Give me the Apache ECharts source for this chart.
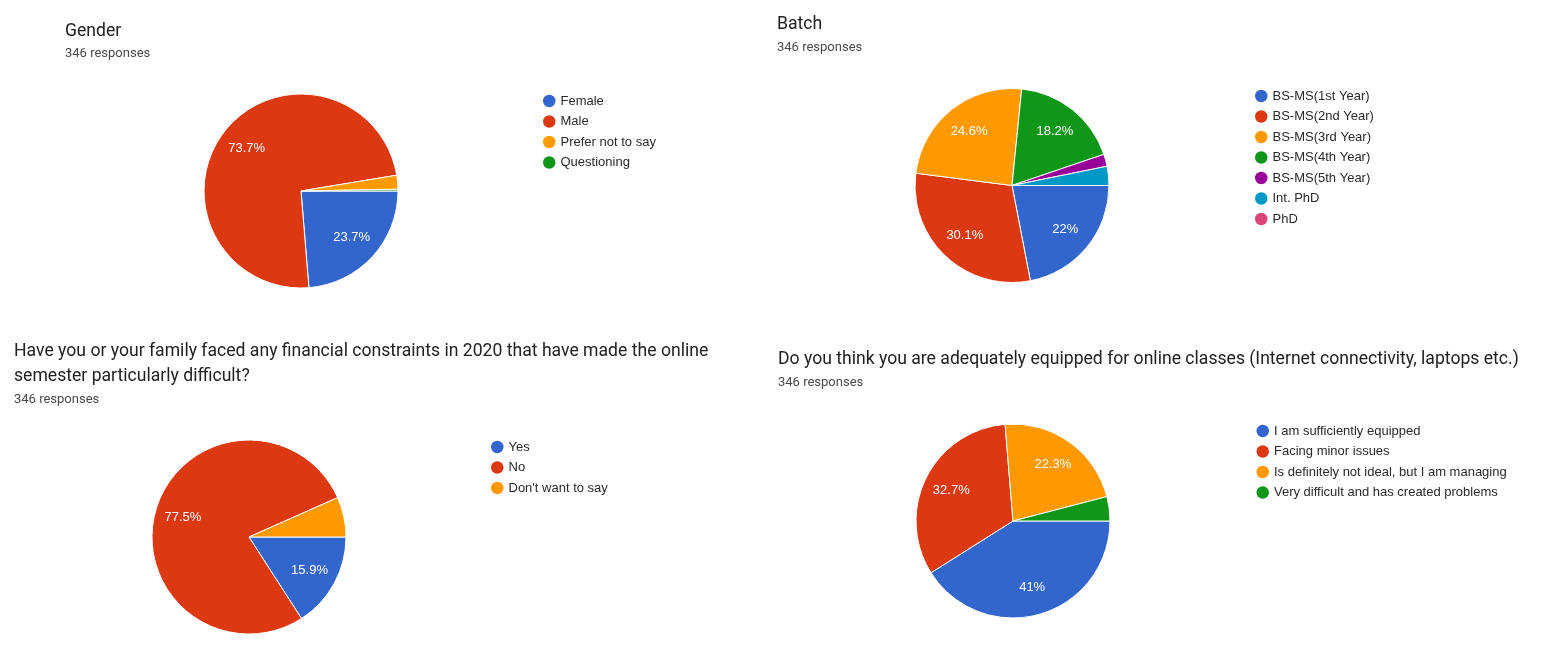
<!DOCTYPE html>
<html>
<head>
<meta charset="utf-8">
<script src="https://cdn.jsdelivr.net/npm/echarts@6/dist/echarts.min.js"></script>
<style>
html,body{margin:0;padding:0;background:#fff;}
#main{width:1553px;height:652px;}
</style>
</head>
<body>
<div id="main"></div>
<script>
// ---- data ----
const colors = ['#3366cc', '#dc3912', '#ff9900', '#109618', '#990099', '#0099c6', '#dd4477'];

const genderTitle = 'Gender';
const genderCats = ['Female', 'Male', 'Prefer not to say', 'Questioning'];
const genderVals = [82, 255, 8, 1];

const batchTitle = 'Batch';
const batchCats = ['BS-MS(1st Year)', 'BS-MS(2nd Year)', 'BS-MS(3rd Year)', 'BS-MS(4th Year)', 'BS-MS(5th Year)', 'Int. PhD', 'PhD'];
const batchVals = [76, 104, 85, 63, 7, 11, 0];

const financeTitle = 'Have you or your family faced any financial constraints in 2020 that have made the online\nsemester particularly difficult?';
const financeCats = ['Yes', 'No', "Don't want to say"];
const financeVals = [55, 268, 23];

const equipTitle = 'Do you think you are adequately equipped for online classes (Internet connectivity, laptops etc.)';
const equipCats = ['I am sufficiently equipped', 'Facing minor issues', 'Is definitely not ideal, but I am managing', 'Very difficult and has created problems'];
const equipVals = [142, 113, 77, 14];

const responses = '346 responses';

// ---- layout ----
const charts = [
  { title: genderTitle, cats: genderCats, vals: genderVals, center: [301, 191], tx: 65, ty: 19, sy: 46.5, lx: 543, ly: 94.5 },
  { title: batchTitle, cats: batchCats, vals: batchVals, center: [1012, 185.5], tx: 777, ty: 12, sy: 40.5, lx: 1255, ly: 89.5 },
  { title: financeTitle, cats: financeCats, vals: financeVals, center: [249, 537], tx: 14, ty: 339.5, sy: 392.5, lx: 491, ly: 440.5 },
  { title: equipTitle, cats: equipCats, vals: equipVals, center: [1013, 521], tx: 778, ty: 347.5, sy: 375.5, lx: 1256.5, ly: 424.5 }
];
const R = 97;

const titles = [];
const legends = [];
const series = [];

charts.forEach((c, i) => {
  const total = c.vals.reduce((a, b) => a + b, 0);
  const data = c.cats.map((n, k) => ({ name: n, value: c.vals[k], itemStyle: { color: colors[k] } }));
  titles.push({
    text: c.title, left: c.tx, top: c.ty, padding: 0,
    textStyle: { fontFamily: 'Roboto', fontSize: 17.6, fontWeight: 'normal', color: '#202124', lineHeight: 25 }
  });
  titles.push({
    text: responses, left: c.tx, top: c.sy, padding: 0,
    textStyle: { fontFamily: 'Roboto', fontSize: 13, fontWeight: 'normal', color: '#4a4a4a', lineHeight: 14 }
  });
  legends.push({
    orient: 'vertical', left: c.lx, top: c.ly, padding: 0,
    icon: 'circle', itemWidth: 12.5, itemHeight: 12.5, itemGap: 7.5,
    selectedMode: false,
    itemStyle: { borderWidth: 0 },
    data: c.cats.map((n, k) => ({ name: n, itemStyle: { color: colors[k], borderWidth: 0 } })),
    textStyle: { fontFamily: 'Liberation Sans', fontSize: 13, color: '#2a2a2a', lineHeight: 13 }
  });
  series.push({
    type: 'pie', center: c.center, radius: [0, R], startAngle: 0, clockwise: true,
    avoidLabelOverlap: false, animation: false, silent: true,
    itemStyle: { borderColor: '#fff', borderWidth: 1 },
    label: { show: false }, labelLine: { show: false },
    data: data
  });
  series.push({
    type: 'pie', center: c.center, radius: [R * 0.36, R], startAngle: 0, clockwise: true,
    avoidLabelOverlap: false, animation: false, silent: true, legendHoverLink: false,
    itemStyle: { color: 'rgba(0,0,0,0)', borderWidth: 0 },
    label: {
      show: true, position: 'inside', color: '#fff',
      fontFamily: 'Liberation Sans', fontSize: 13,
      formatter: function (p) {
        const pct = Math.round(p.value / total * 1000) / 10;
        return pct >= 8 ? pct + '%' : '';
      }
    },
    labelLine: { show: false },
    data: c.cats.map((n, k) => ({ name: n, value: c.vals[k], itemStyle: { color: 'rgba(0,0,0,0)' } }))
  });
});

const chart = echarts.init(document.getElementById('main'));
chart.setOption({
  backgroundColor: '#fff',
  animation: false,
  title: titles,
  legend: legends,
  series: series
});
</script>
</body>
</html>
